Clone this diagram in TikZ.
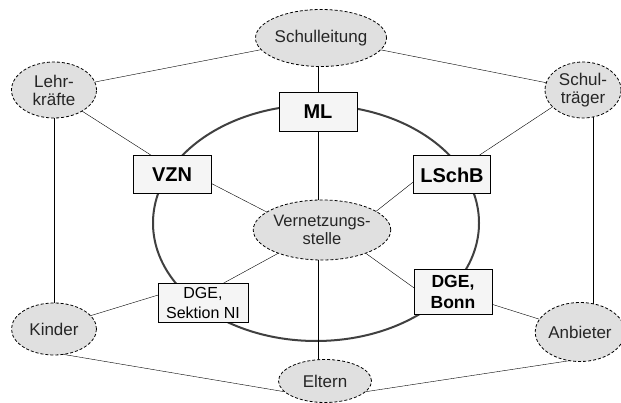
\documentclass[tikz,border=0pt]{standalone}
\usepackage{fontspec}
\setmainfont{Liberation Sans}
\usetikzlibrary{shapes.geometric,backgrounds}

\begin{document}
\begin{tikzpicture}[x=1pt,y=-1pt,
  partner/.style={ellipse,draw,densely dashed,line width=.8pt,fill=black!12,text=black!85,
    inner sep=0pt,outer sep=0pt,align=center,font=\fontsize{17}{18}\selectfont},
  stelle/.style={rectangle,draw,line width=1pt,fill=black!4,inner sep=0pt,
    outer sep=0pt,align=center,font=\fontsize{20}{21}\selectfont\bfseries}]
  \useasboundingbox (0,0) rectangle (621,403);
  % outer partners
  \node[partner,minimum width=123pt,minimum height=57pt] (schulleitung) at (321,38) {Schulleitung};
  \node[partner,minimum width=85pt,minimum height=56pt] (lehrkraefte) at (54,90) {Lehr-\\kräfte};
  \node[partner,minimum width=76pt,minimum height=56pt] (schultraeger) at (583,90) {Schul-\\träger};
  \node[partner,minimum width=85pt,minimum height=52pt] (kinder) at (54,329) {Kinder};
  \node[partner,minimum width=80pt,minimum height=59pt] (anbieter) at (580,332) {Anbieter};
  \node[partner,minimum width=93pt,minimum height=43pt] (eltern) at (325,381) {Eltern};
  \node[partner,minimum width=122pt,minimum height=60pt,font=\fontsize{16.5}{18.5}\selectfont]
    (vernetzung) at (322,230) {Vernetzungs-\\stelle};
  % boxes on the ring
  \node[stelle,minimum width=78pt,minimum height=39pt] (ml) at (318,112) {ML};
  \node[stelle,minimum width=78pt,minimum height=38pt] (vzn) at (172,175) {VZN};
  \node[stelle,minimum width=77pt,minimum height=38pt] (lschb) at (452,175) {LSchB};
  \node[stelle,minimum width=90pt,minimum height=38pt,font=\fontsize{16}{20}\selectfont]
    (dgeni) at (203,303) {DGE,\\Sektion NI};
  \node[stelle,minimum width=78pt,minimum height=45pt,font=\fontsize{17.5}{21}\selectfont\bfseries]
    (dgebonn) at (453,292) {DGE,\\Bonn};
  %
  \begin{scope}[on background layer,line width=.9pt]
    \draw[line width=2pt,black!75] (316,223) ellipse [x radius=163pt,y radius=118pt];
    \draw (schulleitung) -- (lehrkraefte);
    \draw (schulleitung) -- (schultraeger);
    \draw (ml) -- (ml |- schulleitung);
    \draw (ml) -- (ml |- vernetzung);
    \draw (ml |- vernetzung) -- (ml |- eltern);
    \draw (lehrkraefte) -- (kinder);
    \draw (schultraeger.-70) -- (schultraeger.-70 |- anbieter);
    \draw (lehrkraefte.-37) -- (vzn.136);
    \draw (schultraeger.209) -- (lschb.36);
    \draw (vzn.-12) -- (vernetzung.162);
    \draw (lschb.190) -- (vernetzung.19);
    \draw (dgeni.45) -- (vernetzung.208);
    \draw (dgebonn.174) -- (vernetzung.-28);
    \draw (kinder.20) -- (dgeni.170);
    \draw (anbieter) -- (dgebonn);
    \draw (kinder.-70) -- (eltern.195);
    \draw (anbieter.-110) -- (eltern.-15);
  \end{scope}
\end{tikzpicture}
\end{document}
